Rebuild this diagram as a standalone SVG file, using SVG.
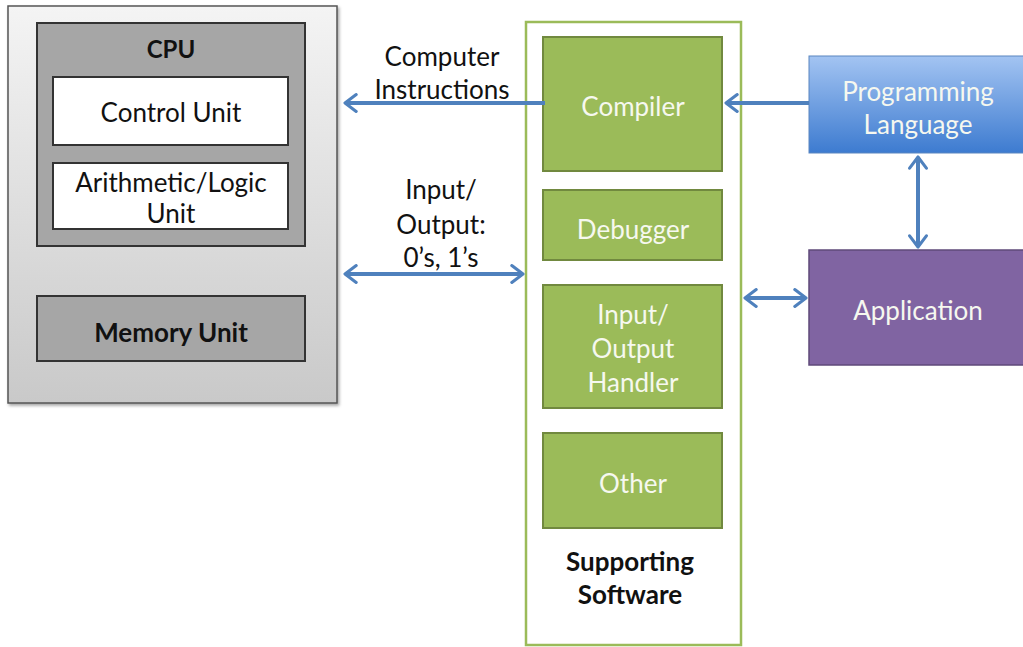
<svg xmlns="http://www.w3.org/2000/svg" width="1023" height="647" viewBox="0 0 1023 647">
<defs>
<linearGradient id="gGray" x1="0" y1="0" x2="0" y2="1"><stop offset="0" stop-color="#f4f4f4"/><stop offset="1" stop-color="#c9c9c9"/></linearGradient>
<linearGradient id="gBlue" x1="0" y1="0" x2="0" y2="1"><stop offset="0" stop-color="#a3c4f2"/><stop offset="1" stop-color="#3d7bd0"/></linearGradient>
<marker id="ah" viewBox="0 0 12 14" refX="10" refY="7" markerWidth="4.2" markerHeight="4.9" orient="auto-start-reverse" markerUnits="strokeWidth">
<path d="M2,1 L10,7 L2,13" fill="none" stroke="#4f81bd" stroke-width="2.2" stroke-linecap="round" stroke-linejoin="round"/>
</marker>
<filter id="sh" x="-5%" y="-5%" width="112%" height="112%"><feDropShadow dx="1.5" dy="2" stdDeviation="1.5" flood-opacity="0.35"/></filter>
</defs>
<style>
text{font-family:Lato,"Open Sans","Liberation Sans",sans-serif;text-anchor:middle}
.dark{fill:#111;font-size:26px}
.bold{font-weight:bold;font-size:26px}
.wt{fill:#f6f8ef;font-size:26px}
.green{fill:#9bbb59;stroke:#71893f;stroke-width:2}
.conn{fill:none;stroke:#4f81bd;stroke-width:4}
</style>
<rect width="1023" height="647" fill="#fff"/>
<g id="computer">
<rect x="8" y="6" width="329" height="397" fill="url(#gGray)" stroke="#555" stroke-width="1.5" filter="url(#sh)"/>
</g>
<g id="cpu">
<rect x="37" y="23" width="268" height="223" fill="#a6a6a6" stroke="#333" stroke-width="2"/>
<text x="171" y="58" class="dark bold" style="font-size:24px">CPU</text>
</g>
<g id="control-unit">
<rect x="53" y="77" width="235" height="68" fill="#fff" stroke="#333" stroke-width="2"/>
<text x="171" y="122" class="dark">Control Unit</text>
</g>
<g id="alu">
<rect x="53" y="163" width="235" height="66" fill="#fff" stroke="#333" stroke-width="2"/>
<text x="171" y="192" class="dark">Arithmetic/Logic</text>
<text x="171" y="223" class="dark">Unit</text>
</g>
<g id="memory-unit">
<rect x="37" y="296" width="268" height="65" fill="#a6a6a6" stroke="#333" stroke-width="2"/>
<text x="171" y="342" class="dark bold">Memory Unit</text>
</g>
<g id="supporting-software">
<rect x="526" y="22" width="215" height="623" fill="#fff" stroke="#9bbb59" stroke-width="2.5"/>
<text x="630" y="571" class="dark bold">Supporting</text>
<text x="630" y="604" class="dark bold">Software</text>
</g>
<g id="compiler">
<rect x="543" y="37" width="179" height="134" class="green"/>
<text x="633" y="116" class="wt">Compiler</text>
</g>
<g id="debugger">
<rect x="543" y="190" width="179" height="70" class="green"/>
<text x="633" y="239" class="wt">Debugger</text>
</g>
<g id="io-handler">
<rect x="543" y="285" width="179" height="123" class="green"/>
<text x="633" y="324" class="wt">Input/</text>
<text x="633" y="358" class="wt">Output</text>
<text x="633" y="392" class="wt">Handler</text>
</g>
<g id="other">
<rect x="543" y="433" width="179" height="95" class="green"/>
<text x="633" y="493" class="wt">Other</text>
</g>
<g id="programming-language">
<rect x="809" y="56" width="220" height="97" fill="url(#gBlue)" stroke="#5a86c0" stroke-width="1"/>
<text x="918" y="101" class="wt">Programming</text>
<text x="918" y="134" class="wt">Language</text>
</g>
<g id="application">
<rect x="809" y="250" width="220" height="115" fill="#8064a2" stroke="#5f497a" stroke-width="1.5"/>
<text x="918" y="320" class="wt">Application</text>
</g>
<g id="connectors">
<line x1="545" y1="103" x2="345" y2="103" class="conn" marker-end="url(#ah)"/>
<line x1="345" y1="274" x2="523" y2="274" class="conn" marker-start="url(#ah)" marker-end="url(#ah)"/>
<line x1="809" y1="103" x2="726" y2="103" class="conn" stroke-width="3" marker-end="url(#ah)"/>
<line x1="918" y1="157" x2="918" y2="247" class="conn" marker-start="url(#ah)" marker-end="url(#ah)"/>
<line x1="745" y1="298" x2="806" y2="298" class="conn" marker-start="url(#ah)" marker-end="url(#ah)"/>
<text x="442" y="66" class="dark">Computer</text>
<text x="442" y="99" class="dark">Instructions</text>
<text x="441" y="199" class="dark">Input/</text>
<text x="441" y="234" class="dark">Output:</text>
<text x="441" y="267" class="dark">0’s, 1’s</text>
</g>
</svg>
